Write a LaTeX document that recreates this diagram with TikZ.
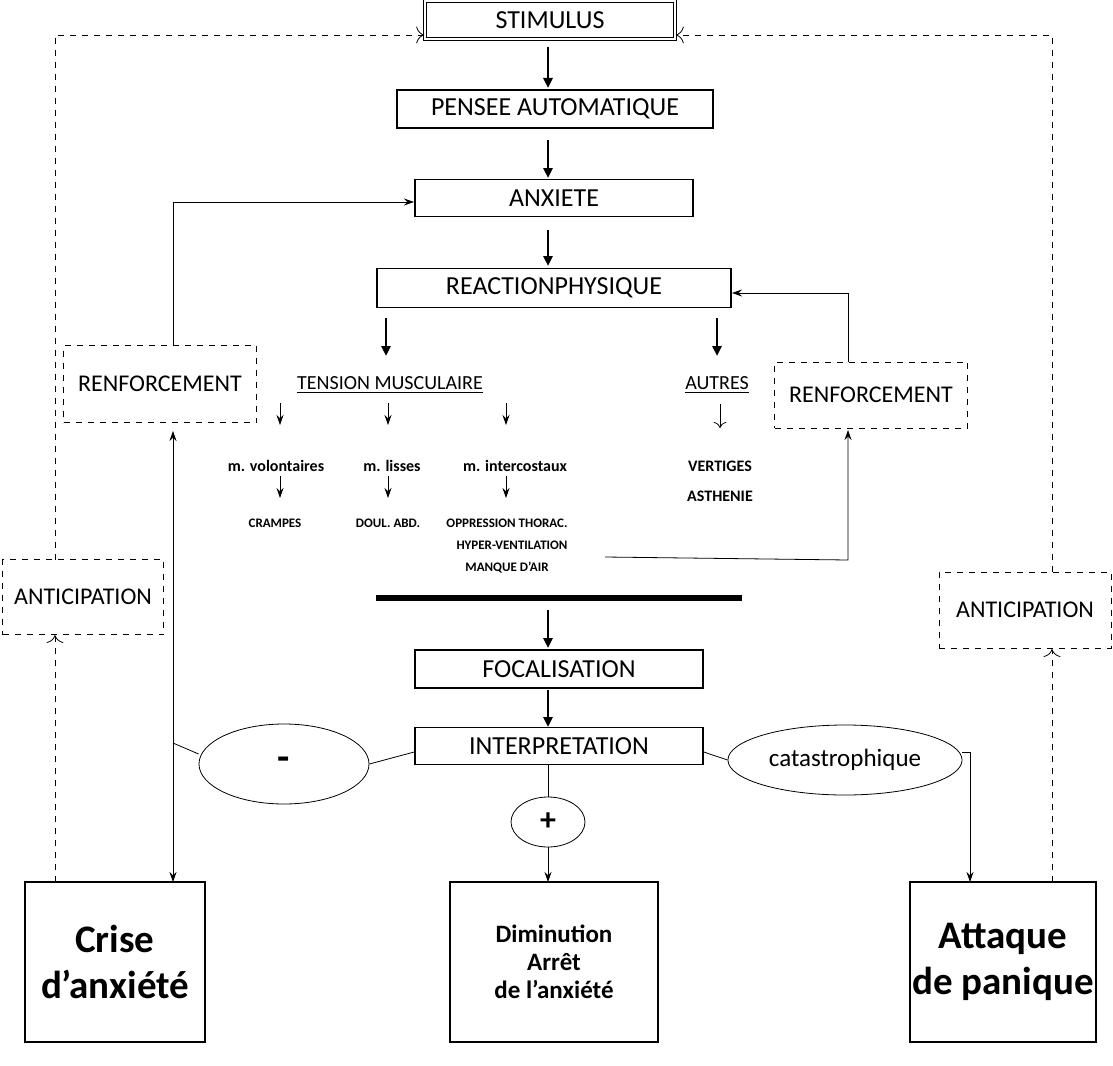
\documentclass[tikz,border=0pt]{standalone}
\usepackage{fontspec}
\setmainfont{Carlito}
\usetikzlibrary{arrows.meta,shapes.geometric}
\begin{document}
\begin{tikzpicture}[x=0.5pt,y=-0.5pt,
 box/.style={draw,thick,font=\fontsize{13}{15}\selectfont},
 dbox/.style={draw,dashed,font=\fontsize{12}{14}\selectfont},
 big/.style={draw,thick,font=\fontsize{19.5}{23}\selectfont\bfseries,align=center,inner sep=1pt},
 thickarr/.style={line width=1.4pt,-{Triangle[length=5pt,width=4.5pt]}},
 thin/.style={-{Stealth[length=5pt,width=3.5pt]}},
 dar/.style={dashed,-{To[length=4pt]}},
 lbl/.style={font=\fontsize{8}{9}\selectfont\bfseries},
 tiny/.style={font=\fontsize{6.5}{7}\selectfont\bfseries}]
\useasboundingbox (0,0) rectangle (1113,1065);
\node[box,double,minimum width=125pt,minimum height=19pt] (stim) at (550,20) {STIMULUS};
\node[box,minimum width=158pt,minimum height=19pt] (pens) at (555,109) {PENSEE AUTOMATIQUE};
\node[box,minimum width=139pt,minimum height=18.5pt] (anx) at (554,198) {ANXIETE};
\node[box,minimum width=177pt,minimum height=19.5pt] (reac) at (554,288) {REACTIONPHYSIQUE};
\draw[thickarr] (548,47) -- (548,88);
\draw[thickarr] (548,140) -- (548,178);
\draw[thickarr] (548,230) -- (548,266);
\draw[thickarr] (386,318) -- (386,356);
\draw[thickarr] (717,318) -- (717,356);
\node[font=\fontsize{10}{11}\selectfont] (tens) at (390,385) {\underline{TENSION MUSCULAIRE}};
\node[font=\fontsize{10}{11}\selectfont] (aut) at (717,385) {\underline{AUTRES}};
\draw[thin] (280,403) -- (280,425); \draw[thin] (388,403) -- (388,425); \draw[thin] (506,403) -- (506,425);
\draw[-{To[length=3pt]}] (720,404) -- (720,428);
\node[lbl] (mv) at (276,466) {m. volontaires};
\node[lbl] (ml) at (392,466) {m. lisses};
\node[lbl] (mi) at (515,466) {m. intercostaux};
\draw[thin] (280,476) -- (280,498);
\draw[thin] (388,476) -- (388,498);
\draw[thin] (506,476) -- (506,498);
\node[tiny] (cr) at (275,523) {CRAMPES};
\node[tiny] (da) at (388,523) {DOUL. ABD.};
\node[tiny] (ot) at (507,523) {OPPRESSION THORAC.};
\node[tiny] (hv) at (512,545) {HYPER-VENTILATION};
\node[tiny] (ma) at (507,568) {MANQUE D'AIR};
\node[lbl] (ve) at (720,466) {VERTIGES};
\node[lbl] (as) at (720,496) {ASTHENIE};
\node[dbox,minimum width=96.5pt,minimum height=33pt] (rr) at (871,395) {RENFORCEMENT};
\node[dbox,minimum width=96.5pt,minimum height=38.5pt] (rl) at (160,384) {RENFORCEMENT};
\coordinate (rrs) at (848,430); \coordinate (rrn) at (848,362);
\coordinate (rln) at (173,345); \coordinate (rls) at (173,431);
\coordinate (reacE) at (732,293); \coordinate (anxW) at (414,202);
\draw[thin] (605,557) -- (848,560) -- (rrs);
\draw[thin] (rrn) -- (848,293) -- (reacE);
\draw[thin] (rln) -- (173,202) -- (anxW);
\draw[line width=3pt] (376,598) -- (742,598);
\node[box,minimum width=144pt,minimum height=19pt] (foc) at (559,669) {FOCALISATION};
\node[box,minimum width=144pt,minimum height=18.5pt] (int) at (559,746) {INTERPRETATION};
\draw[thickarr] (548,610) -- (548,648);
\draw[thickarr] (548,690) -- (548,727);
\node[draw,ellipse,minimum width=85pt,minimum height=40pt,font=\fontsize{20}{22}\selectfont\bfseries] (minus) at (284,764) {-};
\node[draw,ellipse,minimum width=105pt,minimum height=35pt,font=\fontsize{12.5}{14}\selectfont] (cat) at (845,760) {catastrophique};
\node[draw,ellipse,minimum width=37pt,minimum height=25pt,font=\fontsize{16}{18}\selectfont\bfseries] (plus) at (548,822) {+};
\node[big,minimum width=90pt,minimum height=80pt] (crise) at (115,962) {Crise\\d'anxiété};
\node[draw,thick,minimum width=104pt,minimum height=80pt,align=center,font=\fontsize{12.5}{14}\selectfont\bfseries] (dim) at (554,962) {Diminution\\Arrêt\\de l'anxiété};
\node[big,minimum width=90pt,minimum height=80pt] (att) at (1003,962) {Attaque\\de panique};
\coordinate (cn) at (173,882); \coordinate (cn2) at (55,882);
\coordinate (an) at (970,882); \coordinate (an2) at (1052,882);
\coordinate (dn) at (548,882);
\draw (int.west) ++(0,6) -- (minus.east);
\draw (minus.west) ++(0,-10) -- (173,743);
\draw[{Stealth[length=5pt,width=3.5pt]}-{Stealth[length=5pt,width=3.5pt]}] (rls) -- (cn);
\draw (int.east) ++(0,6) -- (cat.west);
\draw[thin] (cat.east) ++(0,-8) -- (970,752) -- (an);
\draw (int.south) ++(-11,0) -- (plus.north);
\draw[thin] (plus.south) -- (dn);
\node[dbox,minimum width=80.5pt,minimum height=37.5pt] (al) at (83,597) {ANTICIPATION};
\node[dbox,minimum width=86pt,minimum height=38pt] (ar) at (1025,610) {ANTICIPATION};
\coordinate (als) at (55,635); \coordinate (aln) at (55,560);
\coordinate (ars) at (1052,649); \coordinate (arn) at (1052,572);
\draw[dar] (cn2) -- (als);
\draw[dar] (aln) -- (55,35) -- (stim.west|-0,35);
\draw[dar] (an2) -- (ars);
\draw[dar] (arn) -- (1052,35) -- (stim.east|-0,35);
\end{tikzpicture}
\end{document}
